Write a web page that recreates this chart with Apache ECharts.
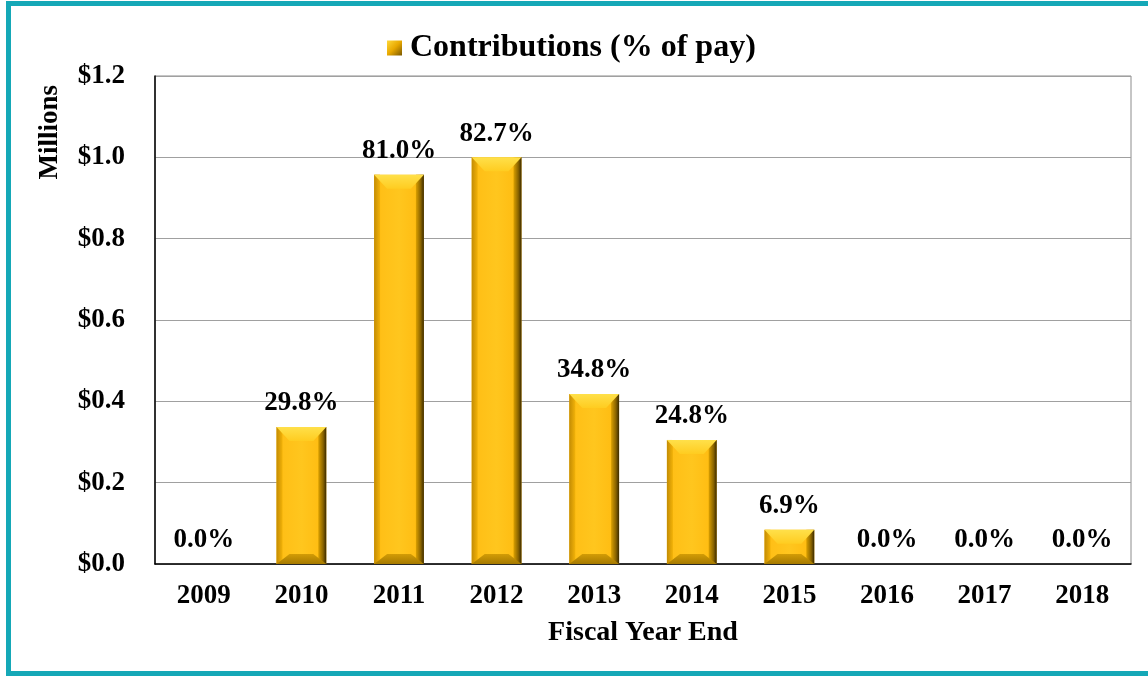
<!DOCTYPE html>
<html>
<head>
<meta charset="utf-8">
<script src="https://cdn.jsdelivr.net/npm/echarts@6/dist/echarts.min.js"></script>
<style>
  html, body { margin: 0; padding: 0; background: #fff; overflow: hidden; }
  #frame {
    position: absolute; left: 6px; top: 1px; width: 1160px; height: 675px;
    border: 5px solid #15a8b7; box-sizing: border-box;
  }
  #chart { position: absolute; left: 0; top: 0; width: 1148px; height: 676px; }
</style>
</head>
<body>
<div id="frame"></div>
<div id="chart"></div>
<script>
// Values.
const YEARS = ["2009", "2010", "2011", "2012", "2013", "2014", "2015", "2016", "2017", "2018"];
const CONTRIBUTIONS = [0, 0.337, 0.957, 1.0, 0.418, 0.305, 0.084, 0, 0, 0]; // $ millions
const PCT_OF_PAY = ["0.0%", "29.8%", "81.0%", "82.7%", "34.8%", "24.8%", "6.9%", "0.0%", "0.0%", "0.0%"];
const Y_TICKS = [0, 0.2, 0.4, 0.6, 0.8, 1.0, 1.2];

const SERIES_NAME = "Contributions (% of pay)";
const FONT = "'Liberation Serif', 'Times New Roman', serif";
const BAR_FRACTION = 0.51;

// Excel's "bevel" look: lighter slope on top, darker slope at the bottom,
// shaded strips down both sides. Drawn on top of the plain bar.
function bevel(params, api) {
  const v = api.value(1);
  if (!v) return null;
  const top = api.coord([api.value(0), v]);
  const base = api.coord([api.value(0), 0]);
  const w = api.size([1, 0])[0] * BAR_FRACTION;
  const x0 = top[0] - w / 2, x1 = top[0] + w / 2;
  const y0 = top[1], y1 = base[1];
  const h = y1 - y0;
  const bt = Math.min(14, h * 0.55);
  const bb = Math.min(10, h * 0.4);
  const s = 13;
  const side = 6;
  return {
    type: "group",
    silent: true,
    children: [
      { type: "rect", shape: { x: x0, y: y0, width: side, height: h },
        style: { fill: new echarts.graphic.LinearGradient(0, 0, 1, 0, [
          { offset: 0, color: "#c38c04" }, { offset: 1, color: "#f2b208" }]) } },
      { type: "rect", shape: { x: x1 - side - 2, y: y0, width: side + 2, height: h },
        style: { fill: new echarts.graphic.LinearGradient(0, 0, 1, 0, [
          { offset: 0, color: "#dba000" }, { offset: 0.6, color: "#8a6400" }, { offset: 1, color: "#3a2a00" }]) } },
      { type: "polygon", shape: { points: [[x0, y0], [x1, y0], [x1 - s, y0 + bt], [x0 + s, y0 + bt]] },
        style: { fill: new echarts.graphic.LinearGradient(0, 0, 0, 1, [
          { offset: 0, color: "#ffe04a" }, { offset: 1, color: "#ffcc20" }]) } },
      { type: "polygon", shape: { points: [[x0, y1], [x1, y1], [x1 - s, y1 - bb], [x0 + s, y1 - bb]] },
        style: { fill: new echarts.graphic.LinearGradient(0, 0, 0, 1, [
          { offset: 0, color: "#d39c06" }, { offset: 1, color: "#a67a00" }]) } },
    ],
  };
}

const chart = echarts.init(document.getElementById("chart"));
chart.setOption({
  animation: false,
  textStyle: { fontFamily: FONT },
  grid: { left: 155, right: 17, top: 76, bottom: 112, show: true, borderColor: "#8c8c8c", borderWidth: 1 },
  legend: {
    data: [SERIES_NAME],
    left: 382, top: 27,
    icon: "rect", itemWidth: 15, itemHeight: 15, itemGap: 6,
    itemStyle: {
      color: new echarts.graphic.LinearGradient(0, 0, 1, 1, [
        { offset: 0, color: "#ffd93a" }, { offset: 0.5, color: "#e8a800" }, { offset: 1, color: "#7a5800" },
      ]),
    },
    textStyle: { fontFamily: FONT, fontWeight: "bold", fontSize: 32, color: "#000", padding: [0, 0, 0, 3] },
  },
  graphic: [{
    type: "text", left: 37, top: 85, rotation: Math.PI / 2,
    style: { text: "Millions", font: "bold 27px " + FONT, fill: "#000" },
  }],
  xAxis: {
    type: "category",
    data: YEARS,
    name: "Fiscal Year End",
    nameLocation: "middle",
    nameGap: 55,
    nameTextStyle: { fontFamily: FONT, fontWeight: "bold", fontSize: 28, color: "#000" },
    axisLine: { lineStyle: { color: "#000", width: 1.5 } },
    axisTick: { show: false },
    axisLabel: { margin: 19, fontFamily: FONT, fontWeight: "bold", fontSize: 27, color: "#000" },
  },
  yAxis: {
    type: "value",
    min: Y_TICKS[0],
    max: Y_TICKS[Y_TICKS.length - 1],
    interval: 0.2,
    axisLine: { show: true, lineStyle: { color: "#000", width: 1.5 } },
    axisTick: { show: false },
    splitLine: { lineStyle: { color: "#a0a0a0", width: 1 } },
    axisLabel: {
      margin: 30, fontFamily: FONT, fontWeight: "bold", fontSize: 27, color: "#000",
      formatter: (v) => "$" + v.toFixed(1),
    },
  },
  series: [
    {
      name: SERIES_NAME,
      type: "bar",
      barWidth: BAR_FRACTION * 100 + "%",
      data: CONTRIBUTIONS,
      itemStyle: {
        color: new echarts.graphic.LinearGradient(0, 0, 1, 0, [
          { offset: 0, color: "#ffbd14" }, { offset: 0.5, color: "#ffc61e" }, { offset: 1, color: "#ffb90e" },
        ]),
      },
      label: {
        show: true,
        position: "top",
        distance: 10,
        fontFamily: FONT, fontWeight: "bold", fontSize: 27, color: "#000",
        formatter: (p) => PCT_OF_PAY[p.dataIndex],
      },
      z: 2,
    },
    {
      name: "bevel",
      type: "custom",
      renderItem: bevel,
      data: CONTRIBUTIONS.map((v, i) => [i, v]),
      z: 3,
      silent: true,
    },
  ],
});
</script>
</body>
</html>
